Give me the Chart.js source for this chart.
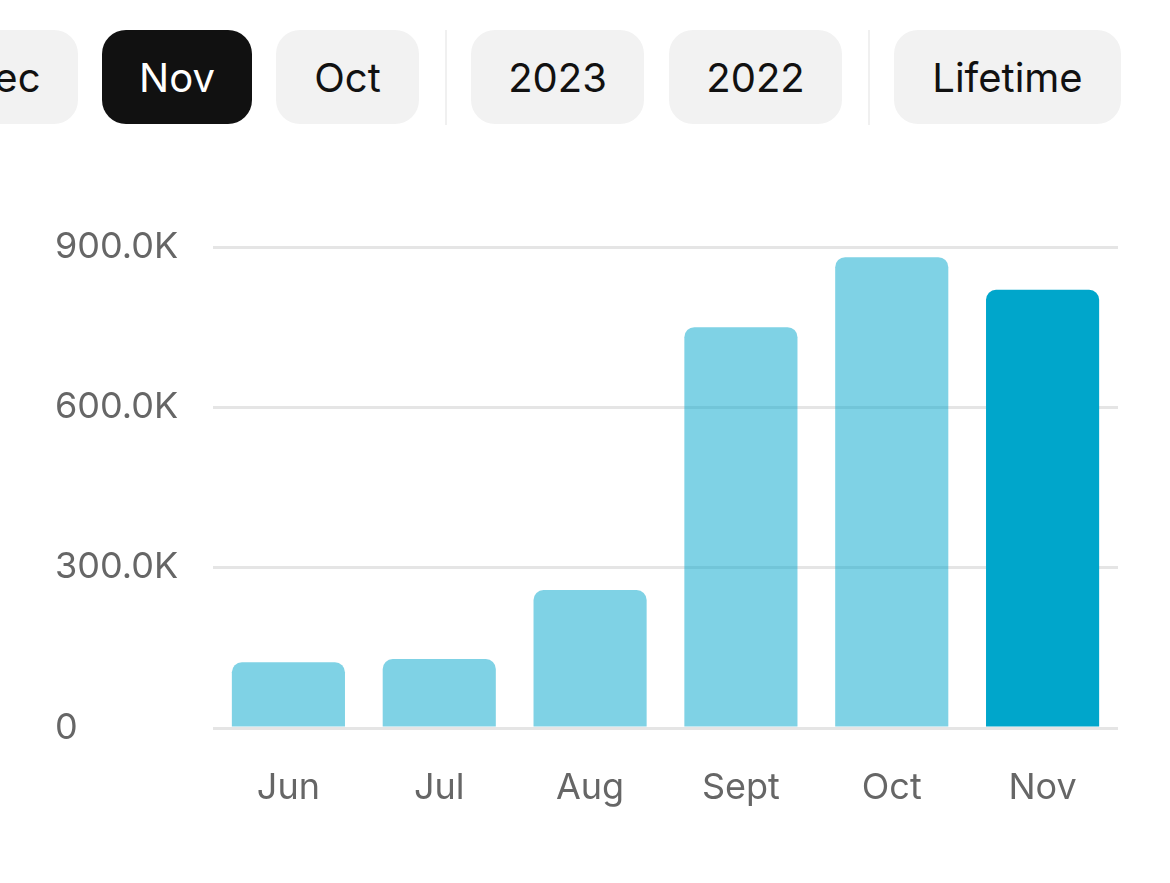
<!DOCTYPE html>
<html>
<head>
<meta charset="utf-8">
<script src="https://cdn.jsdelivr.net/npm/chart.js@4.4.1/dist/chart.umd.min.js"></script>
<style>
  html, body { margin: 0; padding: 0; background: #fff; }
  body { width: 1170px; height: 883px; position: relative; overflow: hidden; font-family: Inter, "Liberation Sans", sans-serif; }
  .pill {
    position: absolute; top: 30px; height: 94px; border-radius: 24px;
    background: #f2f2f2; color: #111; font-size: 40px;
    display: flex; align-items: center; justify-content: center;
  }
  .pill.active { background: #111; color: #fff; }
  .sep { position: absolute; top: 30px; height: 95px; width: 2px; background: #f0f0f0; }
  #wrap { position: absolute; left: 0; top: 180px; width: 1170px; height: 703px; }
</style>
</head>
<body>
  <div class="pill" style="left:-72px;width:150px;">Dec</div>
  <div class="pill active" style="left:102px;width:150px;">Nov</div>
  <div class="pill" style="left:276px;width:143px;">Oct</div>
  <div class="sep" style="left:445px;"></div>
  <div class="pill" style="left:471px;width:173px;">2023</div>
  <div class="pill" style="left:669px;width:173px;">2022</div>
  <div class="sep" style="left:868px;"></div>
  <div class="pill" style="left:894px;width:227px;">Lifetime</div>

  <div id="wrap"><canvas id="revenueChart"></canvas></div>

<script>
// data
const months = ["Jun", "Jul", "Aug", "Sept", "Oct", "Nov"];
const revenue = [123000, 129000, 258000, 750000, 881000, 820000];
const yTicks = [0, 300000, 600000, 900000];
const yTickLabels = ["0", "300.0K", "600.0K", "900.0K"];

const lightBar = "rgba(0, 166, 203, 0.5)";
const darkBar = "#00a6cb";

const ctx = document.getElementById("revenueChart").getContext("2d");
new Chart(ctx, {
  type: "bar",
  data: {
    labels: months,
    datasets: [
      {
        label: "Revenue",
        data: revenue,
        // last month is the selected one
        backgroundColor: months.map((m, i) => (i === months.length - 1 ? darkBar : lightBar)),
        borderRadius: 10,
        borderSkipped: "start",
        categoryPercentage: 0.75,
        barPercentage: 1,
      },
    ],
  },
  options: {
    responsive: true,
    maintainAspectRatio: false,
    animation: false,
    layout: { padding: { left: 55, right: 52, top: 67, bottom: 0 } },
    plugins: { legend: { display: false }, tooltip: { enabled: false } },
    scales: {
      x: {
        grid: { display: false },
        border: { display: false },
        ticks: {
          color: "#666",
          padding: 31,
          font: { family: "Inter, 'Liberation Sans', sans-serif", size: 36 },
        },
        afterFit: (scale) => { scale.height = 155; },
      },
      y: {
        min: 0,
        max: 900000,
        border: { display: false },
        grid: { color: "#e5e5e5", lineWidth: 3, drawTicks: false },
        afterBuildTicks: (scale) => {
          scale.ticks = yTicks.map((v) => ({ value: v }));
        },
        ticks: {
          color: "#666",
          crossAlign: "far",
          padding: 0,
          font: { family: "Inter, 'Liberation Sans', sans-serif", size: 36 },
          callback: (value) => yTickLabels[yTicks.indexOf(value)],
        },
        afterFit: (scale) => { scale.width = 158; },
      },
    },
  },
});
</script>
</body>
</html>
